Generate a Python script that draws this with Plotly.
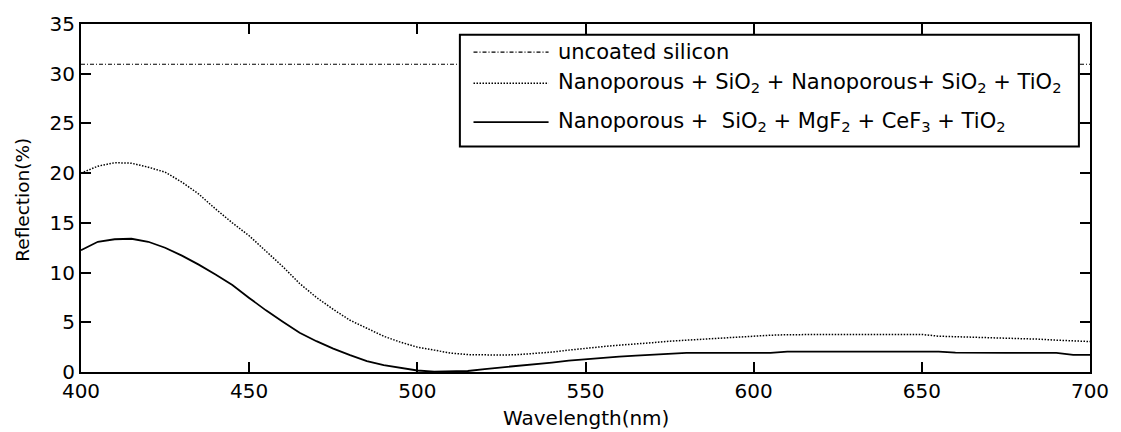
import plotly.graph_objects as go

# ---- data ----
wavelength = [400, 405, 410, 415, 420, 425, 430, 435, 440, 445, 450, 455, 460, 465, 470,
              475, 480, 485, 490, 495, 500, 505, 510, 515, 520, 525, 530, 535, 540, 545,
              550, 555, 560, 565, 570, 575, 580, 585, 590, 595, 600, 605, 610, 615, 620,
              625, 630, 635, 640, 645, 650, 655, 660, 665, 670, 675, 680, 685, 690, 695, 700]

double_stack = [20.0, 20.7, 21.05, 21.0, 20.6, 20.1, 19.1, 17.9, 16.4, 15.0, 13.7, 12.2, 10.6, 8.9, 7.5,
                6.3, 5.2, 4.4, 3.6, 3.0, 2.5, 2.2, 1.9, 1.75, 1.7, 1.7, 1.75, 1.85, 2.0, 2.2,
                2.4, 2.55, 2.7, 2.8, 2.95, 3.1, 3.2, 3.35, 3.45, 3.55, 3.65, 3.7, 3.75, 3.78, 3.78,
                3.78, 3.78, 3.78, 3.78, 3.78, 3.78, 3.6, 3.55, 3.5, 3.5, 3.4, 3.35, 3.3, 3.2, 3.1, 3.06]

mgf2_stack = [12.25, 13.1, 13.35, 13.4, 13.1, 12.5, 11.7, 10.8, 9.8, 8.75, 7.45, 6.2, 5.05, 3.95, 3.1,
              2.35, 1.7, 1.1, 0.7, 0.4, 0.15, 0.03, 0.03, 0.1, 0.3, 0.45, 0.6, 0.75, 0.95, 1.15,
              1.3, 1.45, 1.55, 1.65, 1.75, 1.8, 1.92, 1.92, 1.92, 1.92, 1.92, 1.92, 2.05, 2.05, 2.05,
              2.05, 2.05, 2.05, 2.05, 2.05, 2.05, 2.05, 1.95, 1.92, 1.92, 1.92, 1.92, 1.92, 1.92, 1.73, 1.73]

uncoated_wl = [400, 700]
uncoated_r = [30.95, 30.95]

legend_labels = [
    "uncoated silicon",
    "Nanoporous + SiO<sub>2</sub> + Nanoporous+ SiO<sub>2</sub> + TiO<sub>2</sub>",
    "Nanoporous +  SiO<sub>2</sub> + MgF<sub>2</sub> + CeF<sub>3</sub> + TiO<sub>2</sub>",
]
x_ticks = [400, 450, 500, 550, 600, 650, 700]
y_ticks = [0, 5, 10, 15, 20, 25, 30, 35]

FONT = "DejaVu Sans"
DASHDOT = "4px,2px,1px,2px"
DOT = "1.5px,1.5px"

fig = go.Figure()
fig.add_trace(go.Scatter(x=uncoated_wl, y=uncoated_r, mode="lines",
                         line=dict(color="black", width=1.2, dash=DASHDOT), showlegend=False))
fig.add_trace(go.Scatter(x=wavelength, y=double_stack, mode="lines",
                         line=dict(color="black", width=1.5, dash=DOT), showlegend=False))
fig.add_trace(go.Scatter(x=wavelength, y=mgf2_stack, mode="lines",
                         line=dict(color="black", width=1.8), showlegend=False))

axis_common = dict(showgrid=False, zeroline=False, showline=True, linecolor="black",
                   linewidth=2, mirror="ticks", ticks="inside", ticklen=10, tickwidth=1.5,
                   tickcolor="black", tickfont=dict(family=FONT, size=20, color="black"))

fig.update_layout(
    width=1121, height=432,
    margin=dict(l=81, r=28, t=14, b=60),
    paper_bgcolor="white", plot_bgcolor="white",
    font=dict(family=FONT, color="black"),
    xaxis=dict(range=[400, 700], tickvals=x_ticks, ticktext=[str(v) for v in x_ticks], **axis_common),
    yaxis=dict(range=[0, 35], tickvals=y_ticks, ticktext=[str(v) for v in y_ticks], **axis_common),
    showlegend=False,
)

# axis titles
ann = [
    dict(text="Wavelength(nm)", xref="paper", yref="paper", x=0.5, y=-0.131,
         xanchor="center", yanchor="middle", showarrow=False,
         font=dict(family=FONT, size=20, color="black")),
    dict(text="Reflection(%)", xref="paper", yref="paper", x=-0.0588, y=0.494,
         xanchor="center", yanchor="middle", textangle=-90, showarrow=False,
         font=dict(family=FONT, size=18.5, color="black")),
]

# manual legend box
lx0, lx1, ly0, ly1 = 0.3755, 0.989, 0.648, 0.969
shapes = [dict(type="rect", xref="paper", yref="paper", x0=lx0, x1=lx1, y0=ly0, y1=ly1,
               fillcolor="white", line=dict(color="black", width=2), layer="above")]
row_y = [0.919, 0.830, 0.718]
row_dash = [DASHDOT, DOT, "solid"]
row_w = [1.2, 1.5, 1.8]
for yy, dsh, w, lab in zip(row_y, row_dash, row_w, legend_labels):
    shapes.append(dict(type="line", xref="paper", yref="paper", x0=0.389, x1=0.4634,
                       y0=yy, y1=yy, line=dict(color="black", width=w, dash=dsh), layer="above"))
    ann.append(dict(text=lab, xref="paper", yref="paper", x=0.4704, y=yy,
                    xanchor="left", yanchor="middle", showarrow=False,
                    font=dict(family=FONT, size=21, color="black")))

fig.update_layout(shapes=shapes, annotations=ann)
fig.write_html("out.html")
